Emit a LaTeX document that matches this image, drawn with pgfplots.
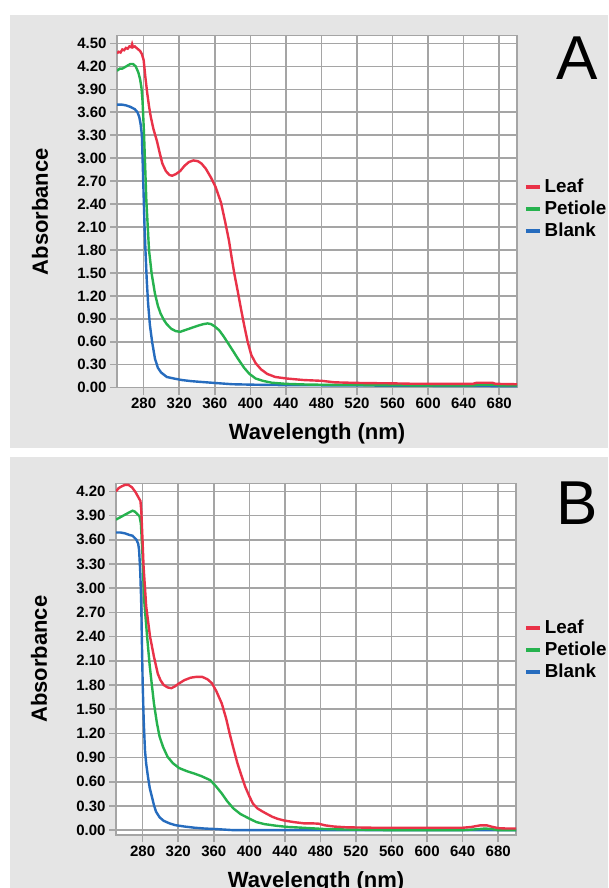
\documentclass[border=0pt]{standalone}
\usepackage{fontspec}
\setmainfont{Liberation Sans}
\usepackage{pgfplots}
\pgfplotsset{compat=1.18}
\definecolor{panelbg}{RGB}{229,229,229}
\definecolor{gridgray}{RGB}{165,165,165}
\definecolor{leafred}{RGB}{233,50,72}
\definecolor{petgreen}{RGB}{38,178,78}
\definecolor{blankblue}{RGB}{38,108,190}

\pgfplotsset{spec/.style={
  scale only axis, width=400pt,
  xmin=250, xmax=700, xtick={280,320,...,680},
  grid=major, grid style={gridgray, line width=1.5pt},
  axis line style={gridgray, line width=1.5pt},
  major tick style={gridgray, line width=1.5pt},
  tick align=outside, tick pos=left, major tick length=7pt,
  axis background/.style={fill=white},
  tick label style={font=\fontsize{15}{17}\selectfont\bfseries},
  /pgf/number format/assume math mode=true,
  yticklabel style={/pgf/number format/.cd, fixed, fixed zerofill, precision=2},
  label style={font=\fontsize{22}{24}\selectfont\bfseries},
  xlabel={Wavelength (nm)}, ylabel={Absorbance},
  xlabel style={at={(axis description cs:0.5,-0.148)}, anchor=base},
  ylabel style={at={(axis description cs:-0.1925,0.5)}, anchor=center},
  legend style={draw=none, fill=none, font=\fontsize{18.8}{20}\selectfont\bfseries,
                anchor=west, legend cell align=left, row sep=0pt,
                nodes={inner xsep=3pt, inner ysep=2.5pt, text height=14pt, text depth=3pt}},
  reverse legend,
  legend image code/.code={\draw[#1, line width=3.5pt] (0pt,0pt) -- (14pt,0pt);},
  every axis plot/.append style={line width=2.4pt, no marks},
}}

\begin{document}
\begin{tikzpicture}[x=1pt,y=1pt]
\useasboundingbox (0,0) rectangle (608,888);
\fill[panelbg] (10,440) rectangle (608,873);
\fill[panelbg] (10,0) rectangle (608,431);

% panel A
\begin{axis}[spec, at={(117pt,500.3pt)}, anchor=south west, height=352pt,
  ymin=0, ymax=4.6,
  ytick={0,0.3,0.6,0.9,1.2,1.5,1.8,2.1,2.4,2.7,3.0,3.3,3.6,3.9,4.2,4.5},
  legend style={at={(axis description cs:1.01,0.508)}}]
\addplot[blankblue] coordinates {(250,3.70) (255,3.70) (260,3.69) (265,3.67) (270,3.64)
  (273,3.60) (275,3.54) (276.5,3.45) (278,3.30) (279,2.90) (280,2.50) (281,2.10) (282,1.80)
  (283.5,1.40) (285,1.10) (287,0.82) (289.5,0.60) (292.7,0.38) (296,0.26) (299.5,0.20)
  (306,0.14) (314,0.12) (323,0.10) (334,0.085) (345,0.075) (362,0.06) (380,0.045)
  (400,0.04) (424,0.035) (500,0.03) (600,0.025) (700,0.02)};
\addlegendentry{Blank}
\addplot[petgreen] coordinates {(250,4.14) (253,4.17) (256,4.17) (259,4.19) (262,4.21)
  (265,4.23) (268,4.23) (271,4.20) (274,4.12) (276,4.03) (277.5,3.92) (278.7,3.75)
  (280.4,3.32) (283,2.45) (286,1.80) (289,1.49) (292.7,1.23) (296,1.07) (299,0.97)
  (303,0.88) (306,0.83) (311,0.77) (316,0.74) (321,0.73) (326,0.75) (331,0.77) (336,0.79)
  (341,0.81) (347,0.83) (352,0.84) (356,0.83) (360,0.80) (365,0.75) (370,0.67) (375,0.58)
  (380,0.49) (386,0.38) (393,0.26) (399,0.18) (406,0.12) (414,0.09) (424,0.065) (440,0.05)
  (467,0.04) (520,0.035) (600,0.03) (650,0.03) (660,0.04) (675,0.04) (680,0.03) (700,0.028)};
\addlegendentry{Petiole}
\addplot[leafred] coordinates {(250,4.37) (252,4.39) (254,4.38) (256,4.42) (258,4.41)
  (260,4.44) (262,4.43) (264,4.46) (266,4.45) (267,4.49) (268,4.45) (270,4.46) (272,4.44)
  (274,4.42) (276,4.40) (278,4.36) (280,4.28) (282,4.05) (284,3.85) (286,3.68) (288,3.54)
  (291,3.38) (295,3.22) (298,3.07) (301,2.93) (305,2.83) (309,2.78) (312,2.77) (316,2.79)
  (321,2.83) (326,2.90) (331,2.95) (336,2.97) (341,2.96) (345,2.93) (350,2.86) (356,2.74)
  (361,2.62) (367,2.42) (372,2.15) (376,1.92) (379,1.70) (382,1.49) (386,1.25) (389,1.06)
  (393,0.82) (397,0.60) (401,0.43) (406,0.32) (412,0.24) (419,0.18) (428,0.14) (441,0.12)
  (460,0.10) (480,0.09) (495,0.07) (511,0.065) (530,0.06) (559,0.057) (580,0.052)
  (620,0.05) (650,0.05) (655,0.065) (672,0.065) (676,0.05) (700,0.045)};
\addlegendentry{Leaf}
\end{axis}

% panel B
\begin{axis}[spec, at={(116pt,53pt)}, anchor=south west, height=351.7pt,
  ymin=-0.06, ymax=4.3,
  ytick={0,0.3,0.6,0.9,1.2,1.5,1.8,2.1,2.4,2.7,3.0,3.3,3.6,3.9,4.2},
  legend style={at={(axis description cs:1.013,0.526)}}]
\addplot[blankblue] coordinates {(250,3.69) (255,3.69) (260,3.68) (265,3.66) (268.6,3.65)
  (273,3.60) (275,3.55) (276,3.47) (277.3,3.20) (278.3,2.85) (279.2,2.30) (280,1.82)
  (281.2,1.35) (282.6,0.99) (284,0.82) (286,0.66) (288,0.52) (290.5,0.41) (292.7,0.31)
  (295,0.23) (299,0.16) (303.6,0.116) (310,0.085) (316.7,0.062) (327,0.045) (338.5,0.03)
  (350,0.02) (364.7,0.012) (382,0.0) (700,0.0)};
\addlegendentry{Blank}
\addplot[petgreen] coordinates {(250,3.85) (255,3.88) (260,3.91) (265,3.94) (268.6,3.96)
  (271,3.95) (273,3.93) (276.5,3.89) (278,3.80) (279.6,3.47) (281.7,2.85) (285,2.40)
  (288,2.03) (292.7,1.57) (296,1.33) (299,1.16) (303,1.03) (308,0.91) (314,0.83) (321,0.77)
  (330,0.73) (338.5,0.70) (346,0.67) (352,0.64) (356,0.62) (362,0.55) (369,0.455)
  (375,0.36) (382,0.27) (390,0.20) (399.6,0.145) (408,0.10) (417,0.075) (430,0.055)
  (443,0.04) (460,0.03) (483,0.015) (500,0.01) (526,0.005) (560,0.0) (640,0.0) (655,0.01)
  (665,0.02) (672,0.015) (680,0.0) (700,0.0)};
\addlegendentry{Petiole}
\addplot[leafred] coordinates {(250,4.20) (253,4.24) (256,4.26) (260,4.28) (264,4.28)
  (268,4.25) (272,4.19) (275,4.13) (277.5,4.08) (278.5,3.95) (280,3.55) (281,3.27)
  (284,2.77) (288.3,2.40) (292.7,2.15) (297,1.94) (300,1.86) (303.6,1.80) (308,1.77)
  (312.3,1.76) (316,1.78) (321,1.82) (327,1.86) (334,1.89) (340,1.90) (347,1.90)
  (353,1.87) (358,1.82) (363,1.72) (369,1.57) (374,1.38) (377.8,1.20) (382,1.02)
  (386.6,0.83) (391,0.68) (395.3,0.54) (400,0.42) (404,0.33) (409,0.27) (415,0.23)
  (420,0.20) (426,0.165) (432,0.14) (439,0.12) (450,0.10) (461,0.085) (470,0.085)
  (478,0.08) (485,0.06) (495,0.045) (510,0.035) (540,0.03) (600,0.03) (640,0.03)
  (650,0.04) (660,0.06) (667,0.06) (672,0.045) (680,0.025) (690,0.02) (700,0.02)};
\addlegendentry{Leaf}
\end{axis}

\node[font=\fontsize{62}{62}\selectfont] at (577,830) {A};
\node[font=\fontsize{62}{62}\selectfont] at (577,385) {B};
\end{tikzpicture}
\end{document}
